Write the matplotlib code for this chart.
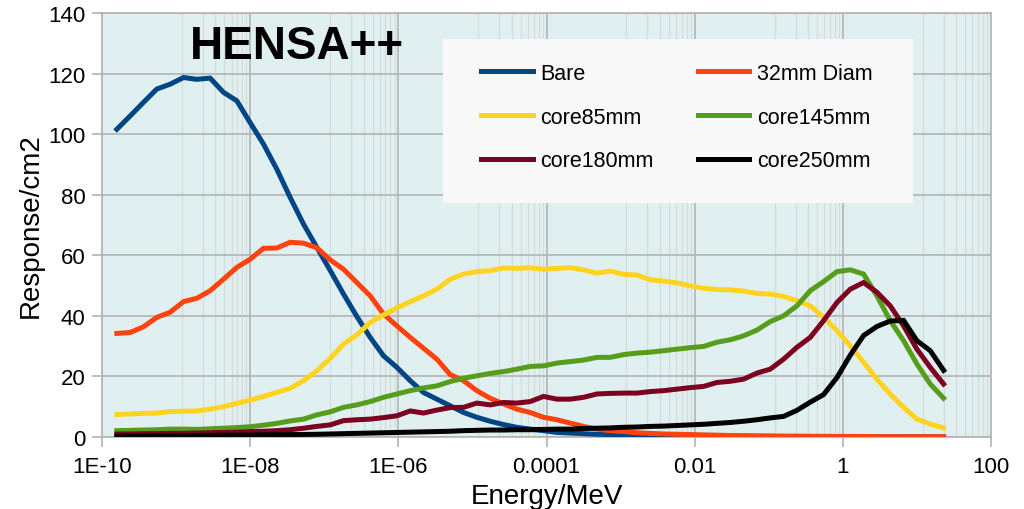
import numpy as np
import matplotlib
matplotlib.use("Agg")
import matplotlib.pyplot as plt
from matplotlib.ticker import FixedLocator, NullFormatter

plt.rcParams["font.family"] = ["Liberation Sans", "DejaVu Sans"]

# log10(E / MeV) sampling points
log_e = [-9.80, -9.62, -9.44, -9.26, -9.08, -8.90, -8.72, -8.54, -8.36, -8.18,
         -8.00, -7.82, -7.64, -7.46, -7.28, -7.10, -6.92, -6.74, -6.56, -6.38,
         -6.20, -6.02, -5.84, -5.66, -5.48, -5.30, -5.12, -4.94, -4.76, -4.58,
         -4.40, -4.22, -4.04, -3.86, -3.68, -3.50, -3.32, -3.14, -2.96, -2.78,
         -2.60, -2.42, -2.24, -2.06, -1.88, -1.70, -1.52, -1.34, -1.16, -0.98,
         -0.80, -0.62, -0.44, -0.26, -0.08, 0.10, 0.28, 0.46, 0.64, 0.82,
         1.00, 1.18, 1.36]

bare = [101.6, 106.0, 110.5, 114.9, 116.5, 118.7, 118.1, 118.5, 113.8, 111.0,
        103.8, 96.7, 88.4, 79.1, 70.3, 62.6, 55.0, 47.2, 39.8, 32.9,
        26.8, 23.0, 18.6, 14.7, 12.5, 10.3, 8.1, 6.5, 5.2, 4.1,
        3.2, 2.6, 2.1, 1.5, 1.3, 1.1, 0.9, 0.8, 0.7, 0.6,
        0.5, 0.45, 0.4, 0.35, 0.3, 0.28, 0.25, 0.22, 0.2, 0.18,
        0.16, 0.15, 0.14, 0.13, 0.12, 0.11, 0.1, 0.1, 0.09, 0.08,
        0.07, 0.06, 0.05]

diam32 = [34.2, 34.5, 36.4, 39.5, 41.2, 44.7, 45.8, 48.3, 52.1, 56.0,
          58.7, 62.3, 62.4, 64.3, 64.0, 62.5, 58.5, 55.4, 51.0, 46.6,
          40.6, 36.7, 32.9, 29.3, 25.7, 20.6, 18.6, 15.3, 12.8, 10.9,
          9.2, 8.1, 6.5, 5.7, 4.6, 3.5, 2.6, 2.1, 1.8, 1.4,
          1.2, 1.0, 0.9, 0.8, 0.7, 0.6, 0.5, 0.45, 0.4, 0.35,
          0.3, 0.28, 0.25, 0.22, 0.2, 0.18, 0.16, 0.14, 0.12, 0.1,
          0.09, 0.08, 0.07]

core85 = [7.4, 7.6, 7.8, 7.9, 8.4, 8.5, 8.6, 9.2, 10.0, 11.1,
          12.2, 13.4, 14.7, 16.1, 18.6, 21.9, 25.9, 30.7, 33.7, 37.8,
          40.3, 42.6, 44.7, 46.6, 48.8, 52.1, 53.8, 54.6, 54.9, 55.8,
          55.7, 55.9, 55.4, 55.7, 55.9, 55.2, 54.1, 54.8, 53.7, 53.5,
          51.9, 51.5, 50.9, 49.9, 49.1, 48.7, 48.6, 48.2, 47.4, 47.2,
          46.4, 45.0, 43.3, 39.5, 35.1, 30.1, 24.7, 19.1, 14.2, 9.8,
          5.9, 4.3, 3.0]

core145 = [2.1, 2.2, 2.3, 2.4, 2.6, 2.6, 2.5, 2.7, 2.9, 3.1,
           3.4, 3.9, 4.5, 5.3, 5.9, 7.3, 8.3, 9.8, 10.6, 11.7,
           13.1, 14.2, 15.3, 16.2, 16.9, 18.3, 19.4, 20.2, 21.0, 21.6,
           22.4, 23.3, 23.5, 24.4, 24.9, 25.4, 26.3, 26.3, 27.2, 27.7,
           28.0, 28.5, 29.0, 29.5, 29.9, 31.3, 32.1, 33.4, 35.3, 38.1,
           40.0, 43.3, 48.3, 51.3, 54.6, 55.2, 53.8, 46.6, 38.4, 31.8,
           24.1, 17.5, 12.8]

core180 = [1.0, 1.0, 1.1, 1.1, 1.2, 1.2, 1.3, 1.4, 1.5, 1.6,
           1.8, 1.9, 2.1, 2.4, 2.9, 3.5, 4.0, 5.4, 5.7, 5.9,
           6.4, 7.0, 8.6, 7.9, 8.9, 9.7, 9.8, 11.2, 10.6, 11.4,
           11.2, 11.7, 13.4, 12.5, 12.5, 13.1, 14.2, 14.4, 14.5, 14.5,
           15.0, 15.3, 15.8, 16.3, 16.7, 18.0, 18.4, 19.1, 21.1, 22.4,
           25.7, 29.6, 32.9, 38.4, 44.4, 48.8, 51.0, 47.8, 43.3, 36.7,
           29.0, 23.0, 17.5]

core250 = [0.3, 0.3, 0.35, 0.4, 0.4, 0.45, 0.5, 0.55, 0.6, 0.6,
           0.65, 0.7, 0.75, 0.8, 0.85, 0.9, 1.0, 1.1, 1.2, 1.3,
           1.4, 1.5, 1.6, 1.7, 1.8, 1.9, 2.1, 2.2, 2.3, 2.3,
           2.4, 2.4, 2.5, 2.6, 2.6, 2.8, 2.9, 3.0, 3.2, 3.3,
           3.5, 3.6, 3.8, 4.0, 4.2, 4.5, 4.8, 5.2, 5.7, 6.3,
           6.8, 8.8, 11.5, 14.0, 19.6, 27.0, 33.5, 36.5, 38.3, 38.5,
           31.8, 28.5, 22.0]

series = [
    ("Bare", bare, "#004586"),
    ("32mm Diam", diam32, "#ff420e"),
    ("core85mm", core85, "#ffd320"),
    ("core145mm", core145, "#579d1c"),
    ("core180mm", core180, "#7e0021"),
    ("core250mm", core250, "#000000"),
]

major_x = [1e-10, 1e-8, 1e-6, 1e-4, 1e-2, 1, 100]
major_x_labels = ["1E-10", "1E-08", "1E-06", "0.0001", "0.01", "1", "100"]

energy = 10 ** np.array(log_e)

fig = plt.figure(figsize=(10.24, 5.10), dpi=100)
ax = fig.add_axes([102 / 1024, 72 / 510, 889 / 1024, 424 / 510])
ax.set_facecolor("#e0f0f0")

lines = []
for name, vals, col in series:
    ln, = ax.plot(energy, vals, color=col, lw=3.6, label=name,
                  solid_joinstyle="miter", zorder=3)
    lines.append(ln)

ax.set_xscale("log")
ax.set_xlim(1e-10, 100)
ax.set_ylim(0, 140)

# linear sub-steps inside each two-decade interval
minor = []
for base in major_x[:-1]:
    minor += [base * (1 + 11 * k) for k in range(1, 9)]
ax.xaxis.set_major_locator(FixedLocator(major_x))
ax.set_xticklabels(major_x_labels)
ax.xaxis.set_minor_locator(FixedLocator(minor))
ax.xaxis.set_minor_formatter(NullFormatter())
ax.set_yticks(range(0, 141, 20))

ax.grid(which="major", color="#b3b3b3", lw=1.2, zorder=1)
ax.grid(which="minor", axis="x", color="#d6dcdc", lw=1.0, zorder=1)
ax.set_axisbelow(True)
for sp in ax.spines.values():
    sp.set_color("#b3b3b3")
    sp.set_linewidth(1.2)
ax.tick_params(which="major", length=7, width=1.2, color="#b3b3b3",
               labelsize=16, labelcolor="#000000")
ax.tick_params(axis="y", pad=5)
ax.tick_params(axis="x", pad=7)
ax.tick_params(which="minor", length=0)

ax.set_xlabel("Energy/MeV", fontsize=20, labelpad=4)
ax.set_ylabel("Response/cm2", fontsize=20, labelpad=3)

ax.text(0.099, 0.975, "HENSA++", transform=ax.transAxes, fontsize=33,
        fontweight="bold", va="top", ha="left", zorder=5)

# legend panel
panel = plt.Rectangle((443 / 1024, 1 - 204 / 510), 470 / 1024, 164 / 510,
                      transform=fig.transFigure, facecolor="#f8f8f8",
                      edgecolor="none", zorder=4)
fig.patches.append(panel)
# row-wise ordering in a two-column legend
order = [0, 2, 4, 1, 3, 5]
leg = fig.legend([lines[i] for i in order], [series[i][0] for i in order],
                 loc="upper left", bbox_to_anchor=(481 / 1024, 1 - 64 / 510),
                 ncol=2, frameon=False, fontsize=15.5, handlelength=2.4,
                 handletextpad=0.35, columnspacing=2.05, labelspacing=1.05,
                 borderpad=0, borderaxespad=0)
leg.set_zorder(6)

fig.savefig("out.png", dpi=100)
